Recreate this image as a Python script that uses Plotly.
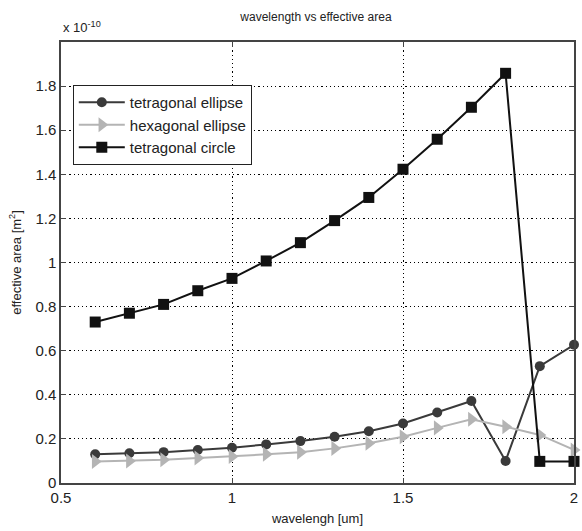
import plotly.graph_objects as go

wavelength = [0.6, 0.7, 0.8, 0.9, 1.0, 1.1, 1.2, 1.3, 1.4, 1.5, 1.6, 1.7, 1.8, 1.9, 2.0]
tetragonal_ellipse = [0.13, 0.135, 0.14, 0.15, 0.16, 0.175, 0.19, 0.21, 0.235, 0.27, 0.32, 0.372, 0.10, 0.53, 0.627]
hexagonal_ellipse = [0.097, 0.10, 0.105, 0.113, 0.12, 0.13, 0.14, 0.157, 0.18, 0.21, 0.25, 0.289, 0.255, 0.218, 0.15]
tetragonal_circle = [0.73, 0.77, 0.81, 0.872, 0.928, 1.007, 1.09, 1.19, 1.295, 1.423, 1.559, 1.704, 1.858, 0.098, 0.098]

xticks = [0.5, 1, 1.5, 2]
xticklabels = ["0.5", "1", "1.5", "2"]
yticks = [0, 0.2, 0.4, 0.6, 0.8, 1.0, 1.2, 1.4, 1.6, 1.8]
yticklabels = ["0", "0.2", "0.4", "0.6", "0.8", "1", "1.2", "1.4", "1.6", "1.8"]

FONT = "Liberation Sans, Arial, sans-serif"

fig = go.Figure()
fig.add_trace(go.Scatter(
    x=wavelength, y=tetragonal_ellipse, name="tetragonal ellipse",
    mode="lines+markers", cliponaxis=False,
    line=dict(color="#3a3a3a", width=2),
    marker=dict(symbol="circle", size=10, color="#3a3a3a"),
))
fig.add_trace(go.Scatter(
    x=wavelength, y=hexagonal_ellipse, name="hexagonal ellipse",
    mode="lines+markers", cliponaxis=False,
    line=dict(color="#b4b4b4", width=2),
    marker=dict(symbol="triangle-right", size=13, color="#b4b4b4"),
))
fig.add_trace(go.Scatter(
    x=wavelength, y=tetragonal_circle, name="tetragonal circle",
    mode="lines+markers", cliponaxis=False,
    line=dict(color="#111111", width=2),
    marker=dict(symbol="square", size=11, color="#111111"),
))

axis_common = dict(
    showline=True, linecolor="#444444", linewidth=1.5, mirror="allticks",
    ticks="inside", ticklen=5, tickcolor="#444444",
    showgrid=True, gridcolor="#000000", gridwidth=1.2, griddash="1.2px,3px",
    zeroline=False,
    tickfont=dict(family=FONT, size=15, color="#222222"),
)

fig.update_layout(
    width=582, height=531,
    margin=dict(l=61, r=4, t=42, b=48),
    paper_bgcolor="white", plot_bgcolor="white",
    font=dict(family=FONT, color="#222222"),
    title=dict(text="wavelength vs effective area", x=0.497, xref="paper", xanchor="center",
               y=1 - 17 / 531, yanchor="middle", font=dict(size=12, family=FONT)),
    showlegend=True,
    legend=dict(x=0.023, y=0.9025, xanchor="left", yanchor="top",
                bgcolor="white", bordercolor="#222222", borderwidth=1,
                font=dict(size=15, family=FONT), itemwidth=46,
                tracegroupgap=0),
    xaxis=dict(range=[0.5, 2], tickvals=xticks, ticktext=xticklabels,
               title=dict(text="wavelengh [um]", font=dict(size=13, family=FONT), standoff=9),
               **axis_common),
    yaxis=dict(range=[0, 2], tickvals=yticks, ticktext=yticklabels,
               title=dict(text="effective area [m<sup>2</sup>]", font=dict(size=13, family=FONT), standoff=11),
               **axis_common),
)

fig.add_annotation(text="x 10<sup>-10</sup>", xref="paper", yref="paper",
                   x=0.0, y=(483 - 27) / 441, xanchor="left", yanchor="middle",
                   showarrow=False, font=dict(size=13, family=FONT, color="#222222"))

fig.write_html("out.html")
